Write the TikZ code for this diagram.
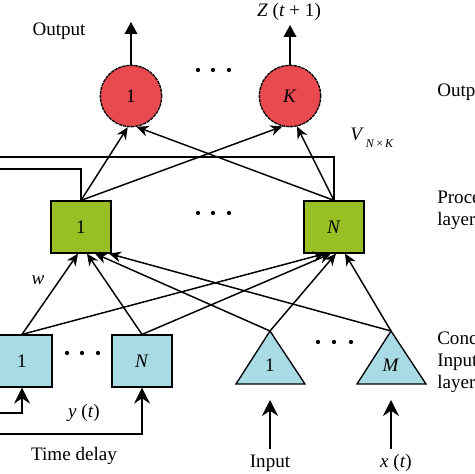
\documentclass[tikz,border=0pt]{standalone}
\usepackage{fontspec}
\setmainfont{Liberation Serif}
\usetikzlibrary{arrows.meta,positioning}

\definecolor{outred}{RGB}{232,74,80}
\definecolor{procgreen}{RGB}{152,192,36}
\definecolor{ctxblue}{RGB}{168,219,228}

\tikzset{
  outunit/.style={circle, draw, fill=outred, line width=1pt, dash pattern=on 2.5pt off 0.6pt, minimum size=46pt, inner sep=0pt},
  procunit/.style={rectangle, draw, fill=procgreen, line width=0.9pt, minimum width=45pt, minimum height=39pt, inner sep=0pt},
  ctxunit/.style={rectangle, draw, fill=ctxblue, line width=0.9pt, minimum width=45pt, minimum height=39pt, inner sep=0pt},
  tri/.style={draw, fill=ctxblue, line width=1pt},
  wt/.style={line width=1.1pt, -{Stealth[length=9pt,width=8pt]}},
  fb/.style={line width=1.2pt},
  bigarr/.style={line width=1.2pt, -{Stealth[length=12pt,width=12pt,inset=4pt]}},
  toparr/.style={line width=1.2pt, -{Triangle[length=9pt,width=9.5pt]}},
}

\begin{document}
\begin{tikzpicture}[x=0.75pt,y=0.75pt,yscale=-1,xscale=1,font=\fontsize{14.3}{16.5}\selectfont]
\useasboundingbox (0,0) rectangle (474,474);
\clip (0,0) rectangle (474,474);

% output layer
\node[outunit] (o1) at (131,96) {1};
\node[outunit] (oK) at (290,96) {\textit{K}};
\foreach \x in {198,213,229} \fill (\x,70) circle (1.6pt);

% processing layer
\node[procunit] (g1) at (81,227) {1};
\node[procunit] (gN) at (334,227) {\textit{N}};
\foreach \x in {198,213,229} \fill (\x,213) circle (1.6pt);

% context units
\node[ctxunit] (c1) at (22,361) {1};
\node[ctxunit] (cN) at (142,361) {\textit{N}};
\foreach \x in {67,82,98} \fill (\x,353) circle (1.6pt);

% input units
\coordinate (t1) at (270,331);
\coordinate (tM) at (391,331);
\draw[tri] (t1) -- ++(35,53) -- ++(-69,0) -- cycle;
\draw[tri] (tM) -- ++(35,53) -- ++(-69,0) -- cycle;
\node (t1lbl) at (270,365) {1};
\node (tMlbl) at (391,365) {\textit{M}};
\foreach \x in {318,334,351} \fill (\x,342) circle (1.6pt);
\coordinate (b1) at (270,384);
\coordinate (bM) at (391,384);

% free ends
\coordinate (y1) at (131,22);
\coordinate (yK) at (290,25);
\coordinate (fb1) at (-5,169);
\coordinate (fb2) at (-5,157);
\coordinate (fb3) at (-5,413);
\coordinate (fb4) at (-5,434);
\coordinate (x1) at (270,449);
\coordinate (xM) at (391,449);

% weights V
\draw[wt] (g1.north) -- (o1.264);
\draw[wt] (g1.north) -- (oK.256);
\draw[wt] (gN.north) -- (o1.280);
\draw[wt] (gN.north) -- (oK.283);

% weights w
\draw[wt] (c1.north) -- ([xshift=-2.25pt]g1.south);
\draw[wt] (cN.north) -- ([xshift=4.5pt]g1.south);
\draw[wt] (t1) -- ([xshift=10.5pt]g1.south);
\draw[wt] (tM) -- ([xshift=21pt]g1.south);
\draw[wt] (c1.north) -- ([xshift=-6.75pt]gN.south);
\draw[wt] (cN.north) -- ([xshift=-2.25pt]gN.south);
\draw[wt] (t1) -- ([xshift=1.5pt]gN.south);
\draw[wt] (tM) -- ([xshift=8.25pt]gN.south);

% time delay loops
\draw[fb] (g1.north) |- (fb1);
\draw[fb] (gN.north) |- (fb2);
\draw[bigarr] (fb3) -| (c1.south);
\draw[bigarr] (fb4) -| (cN.south);

% in and out
\draw[toparr] (o1.north) -- (y1);
\draw[toparr] (oK.north) -- (yK);
\draw[bigarr, shorten >=12pt] (x1) -- (b1);
\draw[bigarr, shorten >=12pt] (xM) -- (bM);

% labels
\node (outlbl) at (59,31) {Output};
\node (zlbl) at (289,12) {\textit{Z} (\textit{t} + 1)};
\node (vlbl) at (372,138) {\textit{V}\raisebox{-5pt}{\fontsize{9}{10}\selectfont\,\textit{N}\,×\,\textit{K}}};
\node (wlbl) at (38,280) {\textit{w}};
\node (ylbl) at (84,413) {\textit{y} (\textit{t})};
\node (tdlbl) at (74,456) {Time delay};
\node (inlbl) at (270,463) {Input};
\node (xlbl) at (396,463) {\textit{x} (\textit{t})};
\node[anchor=west, inner sep=0pt] (outlayer) at (437,92) {Output layer};
\node[anchor=west, inner sep=0pt, align=left] (proclayer) at (437,210) {Processing\\layer};
\node[anchor=west, inner sep=0pt, align=left] (ctxlayer) at (437,362) {Concatenated\\Input\\layer};

\end{tikzpicture}
\end{document}
